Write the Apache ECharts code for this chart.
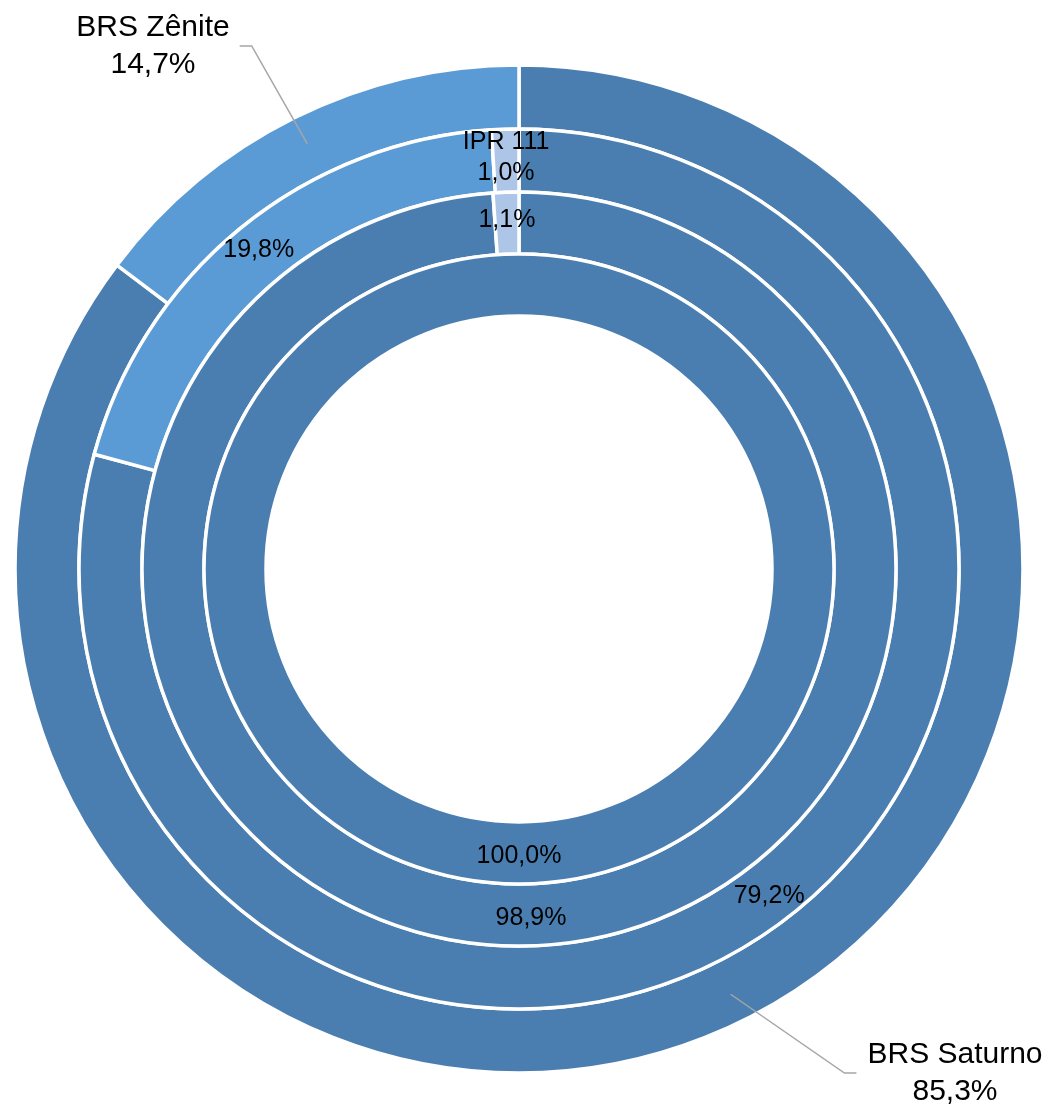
<!DOCTYPE html>
<html>
<head>
<meta charset="utf-8">
<script src="https://cdn.jsdelivr.net/npm/echarts@6/dist/echarts.min.js"></script>
<style>
  html, body { margin: 0; padding: 0; background: #ffffff; }
  #chart { width: 1048px; height: 1109px; }
</style>
</head>
<body>
<div id="chart"></div>
<script>
// ---- data (percentages per ring, outermost first) ----
const ring1Names  = ['BRS Saturno', 'BRS Zênite'];
const ring1Values = [85.3, 14.7];
const ring2Names  = ['BRS Saturno', 'BRS Zênite', 'IPR 111'];
const ring2Values = [79.2, 19.8, 1.0];
const ring3Names  = ['BRS Saturno', 'IPR 111'];
const ring3Values = [98.9, 1.1];
const ring4Names  = ['BRS Saturno'];
const ring4Values = [100.0];

// names whose label also shows the category name (per ring)
const ring2ShowName = ['IPR 111'];

// ---- styling ----
const colors = {
  'BRS Saturno': '#4a7eb0',
  'BRS Zênite':  '#5b9bd5',
  'IPR 111':     '#adc6e8'
};
const FONT = '"Liberation Sans", Arial, Helvetica, sans-serif';
const CENTER = [519, 569];
// outer label centres (text placement)
const outerLabelPos = { 'BRS Saturno': [955, 1073], 'BRS Zênite': [153, 46] };

function fmt(v) { return v.toFixed(1).replace('.', ',') + '%'; }

function makeData(names, values) {
  return names.map((n, i) => ({
    name: n, value: values[i],
    itemStyle: { color: colors[n] }
  }));
}

function ring(names, values, radius, showNames) {
  return {
    type: 'pie',
    center: CENTER,
    radius: radius,
    startAngle: 90,
    clockwise: true,
    silent: true,
    animation: false,
    avoidLabelOverlap: false,
    itemStyle: { borderColor: '#ffffff', borderWidth: 3.5 },
    label: {
      show: true,
      position: 'inside',
      color: '#000000',
      fontFamily: FONT,
      fontSize: 25,
      lineHeight: 31,
      formatter: p => (showNames && showNames.indexOf(p.name) >= 0 ? p.name + '\n' : '') + fmt(p.value)
    },
    labelLine: { show: false },
    data: makeData(names, values)
  };
}

const chart = echarts.init(document.getElementById('chart'), null, { renderer: 'canvas' });

const option = {
  backgroundColor: '#ffffff',
  series: [
    Object.assign(ring(ring1Names, ring1Values, [440, 504], null), { label: { show: false } }),
    ring(ring2Names, ring2Values, [377, 440], ring2ShowName),
    ring(ring3Names, ring3Values, [315, 377], null),
    ring(ring4Names, ring4Values, [253, 315], null),
    // transparent copy of the outer ring used only to anchor the outside labels
    {
      type: 'pie',
      center: CENTER,
      radius: [440, 475],
      startAngle: 90,
      clockwise: true,
      silent: true,
      animation: false,
      avoidLabelOverlap: false,
      z: 5,
      itemStyle: { color: 'rgba(0,0,0,0)', borderWidth: 0 },
      label: {
        show: true,
        position: 'outside',
        color: '#000000',
        fontFamily: FONT,
        fontSize: 30,
        lineHeight: 37,
        align: 'center',
        formatter: p => p.name + '\n' + fmt(p.value)
      },
      labelLine: {
        show: true,
        length: 60,
        length2: 12,
        smooth: false,
        lineStyle: { color: '#a6a6a6', width: 1.5 }
      },
      labelLayout: function (params) {
        const name = ring1Names[params.dataIndex];
        const pos = outerLabelPos[name];
        const w = params.labelRect.width;
        const pts = params.labelLinePoints;
        if (!pts || !pts.length) {
          return { x: pos[0], y: pos[1], align: 'center', verticalAlign: 'middle' };
        }
        const start = pts[0];
        const side = pos[0] > start[0] ? 1 : -1;
        const edgeX = side > 0 ? pos[0] - w / 2 - 11 : pos[0] + w / 2 + 10;
        return {
          x: pos[0], y: pos[1], align: 'center', verticalAlign: 'middle',
          labelLinePoints: [start, [edgeX - side * 12, pos[1]], [edgeX, pos[1]]]
        };
      },
      data: ring1Names.map((n, i) => ({ name: n, value: ring1Values[i] }))
    }
  ]
};

chart.setOption(option);
</script>
</body>
</html>
